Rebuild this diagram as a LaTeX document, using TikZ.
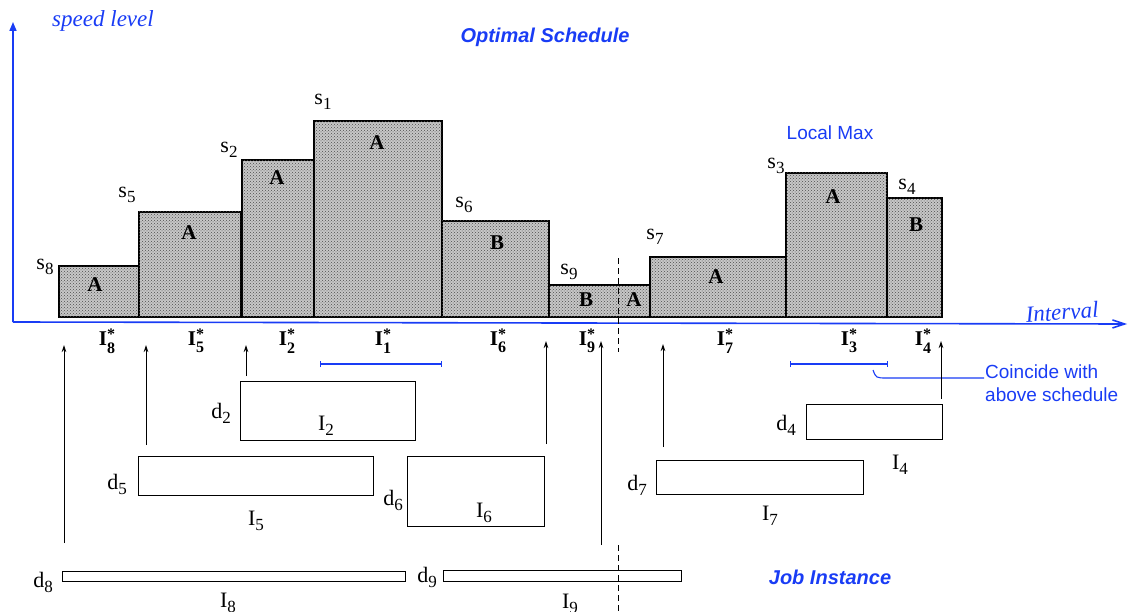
\documentclass[tikz,border=0pt]{standalone}
\usepackage{fontspec}
\setmainfont{Liberation Serif}
\newfontfamily\blsans{Liberation Sans}
\usetikzlibrary{arrows.meta,patterns}
\definecolor{penblue}{RGB}{25,60,245}
\newcommand\subl[2]{#1\raisebox{-0.5ex}{\fontsize{17}{17}\selectfont #2}}
\newcommand\Istar[1]{I\raisebox{-0.75ex}{\fontsize{16}{11}\selectfont\shortstack[l]{*\\#1}}}
\begin{document}
\begin{tikzpicture}[x=1pt,y=-1pt,
  bar/.style={draw=black,line width=1.4pt,fill=black!22,postaction={pattern=crosshatch dots,pattern color=black!70}},
  jobbox/.style={draw=black,line width=1.3pt,inner sep=0pt,anchor=north west},
  lbl/.style={font=\fontsize{22}{24}\selectfont,inner sep=1pt},
  job/.style={font=\fontsize{21}{22}\selectfont\bfseries,inner sep=1pt},
  istar/.style={font=\fontsize{21}{22}\selectfont\bfseries,inner sep=0pt},
  upar/.style={draw=black,line width=0.9pt,-{Stealth[length=7pt,width=4.5pt]}},
  bluetxt/.style={text=penblue,font=\blsans\fontsize{19}{23}\selectfont,inner sep=1pt},
  hand/.style={text=penblue,font=\itshape\fontsize{23}{25}\selectfont,inner sep=1pt},
  dashv/.style={draw=black,line width=0.9pt,dash pattern=on 6pt off 4pt}]
\useasboundingbox (0,0) rectangle (1139,612);
% axes
\coordinate (O) at (13,322);
\coordinate (ytop) at (13,22);
\coordinate (xend) at (1127,324);
\draw[penblue,line width=1.6pt,-{Triangle[length=9pt,width=7pt]}] (O) -- (ytop);
\draw[penblue,line width=1.6pt,-{Straight Barb[length=12pt,width=8pt]}] (O) -- (xend);
\node[hand] (speed) at (103,21) {speed level};
\node[hand,rotate=4] (intv) at (1062,312) {Interval};
\node[bluetxt,font=\blsans\fontsize{20}{24}\selectfont\bfseries\itshape] (opt) at (545,37) {Optimal Schedule};
\node[bluetxt] (lmax) at (830,133) {Local Max};
% bars
\draw[bar] (59,317) rectangle (139,266);
\draw[bar] (139,317) rectangle (241,212);
\draw[bar] (242,317) rectangle (314,160);
\draw[bar] (314,317) rectangle (442,121);
\draw[bar] (442,317) rectangle (549,221);
\draw[bar] (549,317) rectangle (650,285);
\draw[bar] (650,317) rectangle (786,257);
\draw[bar] (786,317) rectangle (887,173);
\draw[bar] (887,317) rectangle (942,198);
\draw[dashv] (618,258) -- (618,352);
% bar letters
\node[job] (a8) at (95,285) {A};
\node[job] (a5) at (189,233) {A};
\node[job] (a2) at (277,178) {A};
\node[job] (a1) at (377,143) {A};
\node[job] (b6) at (497,243) {B};
\node[job] (b9) at (586,300) {B};
\node[job] (a9) at (634,300) {A};
\node[job] (a7) at (716,277) {A};
\node[job] (a3) at (833,197) {A};
\node[job] (b4) at (916,225) {B};
% speed labels
\node[lbl] (s8) at (45,267) {\subl{s}{8}};
\node[lbl] (s5) at (127,195) {\subl{s}{5}};
\node[lbl] (s2) at (229,150) {\subl{s}{2}};
\node[lbl] (s1) at (323,102) {\subl{s}{1}};
\node[lbl] (s6) at (464,205) {\subl{s}{6}};
\node[lbl] (s9) at (569,272) {\subl{s}{9}};
\node[lbl] (s7) at (655,237) {\subl{s}{7}};
\node[lbl] (s3) at (776,166) {\subl{s}{3}};
\node[lbl] (s4) at (907,187) {\subl{s}{4}};
% interval labels
\node[istar] (i8) at (107,341) {\Istar{8}};
\node[istar] (i5) at (196,341) {\Istar{5}};
\node[istar] (i2) at (287,341) {\Istar{2}};
\node[istar] (i1) at (383,341) {\Istar{1}};
\node[istar] (i6) at (498,341) {\Istar{6}};
\node[istar] (i9) at (587,341) {\Istar{9}};
\node[istar] (i7) at (725,341) {\Istar{7}};
\node[istar] (i3) at (849,341) {\Istar{3}};
\node[istar] (i4) at (923,341) {\Istar{4}};
% blue brackets and callout
\draw[penblue,line width=1.1pt,{Bar[width=6pt]}-{Bar[width=6pt]}] (320,364) -- (442,364);
\draw[penblue,line width=1.1pt,{Bar[width=6pt]}-{Bar[width=6pt]}] (790,364) -- (888,364);
\coordinate (cs) at (873,370);
\node[bluetxt,anchor=west,align=left] (coin) at (984,383) {Coincide with\\above schedule};
\draw[penblue,line width=1.1pt] (cs) .. controls (876,378) .. (887,378) -- (coin.west |- 0,378);
% job boxes
\node[jobbox,minimum width=175pt,minimum height=59pt] (I2) at (240,381) {};
\node[jobbox,minimum width=235pt,minimum height=39pt] (I5) at (138,456) {};
\node[jobbox,minimum width=137pt,minimum height=70pt] (I6) at (407,456) {};
\node[jobbox,minimum width=207pt,minimum height=34pt] (I7) at (656,460) {};
\node[jobbox,minimum width=136pt,minimum height=35pt] (I4) at (806,404) {};
\node[jobbox,minimum width=343pt,minimum height=10pt] (I8) at (62,571) {};
\node[jobbox,minimum width=238pt,minimum height=11pt] (I9) at (443,570) {};
\draw[dashv] (618,545) -- (618,612);
% job labels
\node[lbl] (d2) at (221,413) {\subl{d}{2}};
\node[lbl] (l2) at (326,426) {\subl{I}{2}};
\node[lbl] (d5) at (117,484) {\subl{d}{5}};
\node[lbl] (l5) at (256,521) {\subl{I}{5}};
\node[lbl] (d6) at (393,500) {\subl{d}{6}};
\node[lbl] (l6) at (484,513) {\subl{I}{6}};
\node[lbl] (d7) at (637,485) {\subl{d}{7}};
\node[lbl] (l7) at (770,516) {\subl{I}{7}};
\node[lbl] (d4) at (786,425) {\subl{d}{4}};
\node[lbl] (l4) at (900,465) {\subl{I}{4}};
\node[lbl] (d8) at (43,582) {\subl{d}{8}};
\node[lbl] (l8) at (228,603) {\subl{I}{8}};
\node[lbl] (d9) at (427,577) {\subl{d}{9}};
\node[lbl] (l9) at (570,604) {\subl{I}{9}};
\node[bluetxt,font=\blsans\fontsize{20}{24}\selectfont\bfseries\itshape] (jobi) at (830,577) {Job Instance};
% upward arrows
\coordinate (p8) at (64,543);  \coordinate (q8) at (64,345);
\coordinate (p5) at (146,445); \coordinate (q5) at (146,345);
\coordinate (p2) at (246,376); \coordinate (q2) at (246,345);
\coordinate (p6) at (546,444); \coordinate (q6) at (546,341);
\coordinate (p9) at (601,545); \coordinate (q9) at (601,341);
\coordinate (p7) at (663,447); \coordinate (q7) at (663,344);
\coordinate (p4) at (941,399); \coordinate (q4) at (941,341);
\foreach \k in {8,5,2,6,9,7,4} \draw[upar] (p\k) -- (q\k);
\end{tikzpicture}
\end{document}
